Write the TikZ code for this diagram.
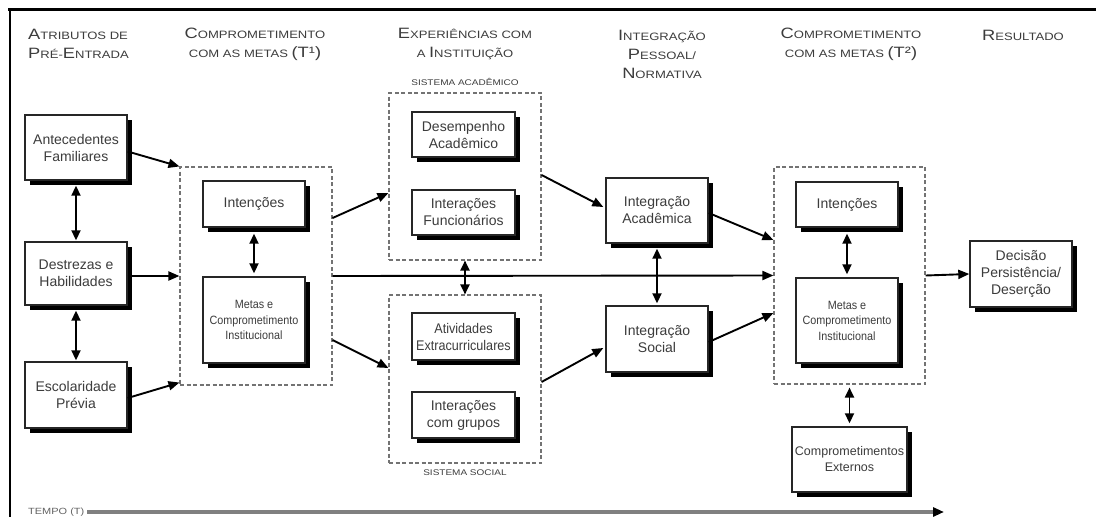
\documentclass[tikz,border=0pt]{standalone}
\usepackage{fontspec}
\setmainfont{Liberation Sans}
\newfontfamily\hdfont[FakeStretch=1.22]{Liberation Sans}
\newfontfamily\cdfont[FakeStretch=0.9]{Liberation Sans}
\usetikzlibrary{arrows.meta,calc}
\newcommand{\hsc}[2]{{\fontsize{15}{19}\selectfont #1}{\fontsize{10.7}{19}\selectfont #2}}
\newcommand{\ssc}[1]{{\fontsize{10.7}{19}\selectfont #1}}
\definecolor{txt}{HTML}{3C3C3C}
\tikzset{
  box/.style={draw=black!85, line width=1.4pt, fill=white,
    preaction={fill=black, transform canvas={xshift=4.5pt, yshift=-4.5pt}},
    text=txt, font=\fontsize{14}{17}\selectfont, align=center, inner sep=1pt},
  wh/.style 2 args={minimum width=#1pt, minimum height=#2pt},
  dbox/.style={draw=black!55, line width=1.1pt, dash pattern=on 4pt off 2.5pt},
  hdr/.style={text=txt, font=\hdfont\fontsize{15}{19}\selectfont, align=center, inner sep=0pt},
  lbl/.style={text=txt, font=\hdfont\fontsize{8.2}{9}\selectfont, inner sep=0pt},
  arr/.style={line width=1.9pt, -{Triangle[length=11pt,width=9pt]}},
  darr/.style={line width=1.9pt, {Triangle[length=10pt,width=9pt]}-{Triangle[length=10pt,width=9pt]}},
}
\begin{document}
\begin{tikzpicture}[x=1pt,y=-1pt]
\useasboundingbox (0,0) rectangle (1096,517);
% frame
\draw[line width=3pt] (8,9) -- (1096,9);
\draw[line width=2.2pt] (10,9) -- (10,517);

% headers
\node[hdr, align=left, anchor=west] (h1) at (28,44) {\hsc{A}{TRIBUTOS DE}\\\hsc{P}{RÉ-}\hsc{E}{NTRADA}};
\node[hdr] (h2) at (255,44) {\hsc{C}{OMPROMETIMENTO}\\\ssc{COM AS METAS }(T¹)};
\node[hdr] (h3) at (465,44) {\hsc{E}{XPERIÊNCIAS COM}\\\ssc{A }\hsc{I}{NSTITUIÇÃO}};
\node[hdr] (h4) at (662,54) {\hsc{I}{NTEGRAÇÃO}\\\hsc{P}{ESSOAL/}\\\hsc{N}{ORMATIVA}};
\node[hdr] (h5) at (851,44) {\hsc{C}{OMPROMETIMENTO}\\\ssc{COM AS METAS }(T²)};
\node[hdr] (h6) at (1023,35) {\hsc{R}{ESULTADO}};

% dashed groups
\node[dbox, wh={152}{218}] (t1) at (256,276) {};
\node[dbox, wh={152}{167}] (sa) at (465,176.5) {};
\node[dbox, wh={152}{168}] (ss) at (465,379) {};
\node[dbox, wh={151}{217}] (t2) at (849.5,275.5) {};
\node[lbl] (lsa) at (465,82) {SISTEMA ACADÊMICO};
\node[lbl] (lss) at (465,473) {SISTEMA SOCIAL};

% boxes
\node[box, wh={102}{65}] (fam) at (76,147.5) {Antecedentes\\Familiares};
\node[box, wh={102}{63}] (des) at (76,273.5) {Destrezas e\\Habilidades};
\node[box, wh={102}{66}] (esc) at (76,395) {Escolaridade\\Prévia};
\node[box, wh={102}{46}] (int1) at (254,204) {Intenções};
\node[box, wh={102}{86}, font=\cdfont\fontsize{12}{15.5}\selectfont] (met1) at (254,320) {Metas e\\Comprometimento\\Institucional};
\node[box, wh={103}{45}] (dsp) at (463.5,134.5) {Desempenho\\Acadêmico};
\node[box, wh={103}{45}] (ifn) at (463.5,212.5) {Interações\\Funcionários};
\node[box, wh={103}{47}, font=\cdfont\fontsize{14}{17}\selectfont] (atv) at (463.5,336.5) {Atividades\\Extracurriculares};
\node[box, wh={103}{46}] (igr) at (463.5,415) {Interações\\com grupos};
\node[box, wh={102}{65}] (ia) at (657,210.5) {Integração\\Acadêmica};
\node[box, wh={102}{66}] (is) at (657,339) {Integração\\Social};
\node[box, wh={102}{45}] (int2) at (847,204.5) {Intenções};
\node[box, wh={102}{85}, font=\cdfont\fontsize{12}{15.5}\selectfont] (met2) at (847,320.5) {Metas e\\Comprometimento\\Institucional};
\node[box, wh={102}{66}] (dec) at (1021,274) {Decisão\\Persistência/\\Deserção};
\node[box, wh={115}{65}, font=\fontsize{12.5}{16}\selectfont] (ext) at (849.5,459.5) {Comprometimentos\\Externos};

% connectors
\draw[arr] ([yshift=-4pt]fam.east) -- (t1.north west);
\draw[arr] (des.east |- t1.west) -- (t1.west);
\draw[arr] ([yshift=-3pt]esc.east) -- ([yshift=3pt]t1.south west);
\draw[darr, shorten <=5pt, shorten >=1pt] (fam.south) -- (des.north);
\draw[darr, shorten <=5pt, shorten >=1pt] (des.south) -- (esc.north);
\draw[darr, shorten <=6pt, shorten >=3pt] (int1.south) -- (met1.north);
\draw[arr] (t1.east |- 0,218) -- (sa.west |- 0,193);
\draw[arr] (t1.east |- 0,340) -- (ss.west |- 0,368);
\draw[arr] (t1.east) -- (t2.west);
\draw[darr] (sa.south) -- (ss.north);
\draw[arr] (sa.east |- 0,175) -- ([xshift=-2pt]ia.west |- 0,207);
\draw[arr] (ss.east |- 0,382) -- ([xshift=-2pt]is.west |- 0,348);
\draw[darr, shorten <=5pt, shorten >=2pt] (ia.south) -- (is.north);
\draw[arr] (ia.east |- 0,213) -- (t2.west |- 0,240);
\draw[arr] (is.east |- 0,342) -- (t2.west |- 0,313);
\draw[darr, shorten <=6pt, shorten >=3pt] (int2.south) -- (met2.north);
\draw[arr] (t2.east) -- (dec.west);
\draw[darr, shorten <=3pt, shorten >=3pt] (t2.south) -- (ext.north);

% time axis
\node[text=txt!80, font=\hdfont\fontsize{9}{10}\selectfont, anchor=west, inner sep=0pt] (tempo) at (28,512) {TEMPO (T)};
\coordinate (tstart) at (87,512);
\coordinate (tend) at (944,512);
\draw[line width=3.2pt, black!50, -{Triangle[length=11pt,width=9pt,color=black]}] (tstart) -- (tend);
\end{tikzpicture}
\end{document}
